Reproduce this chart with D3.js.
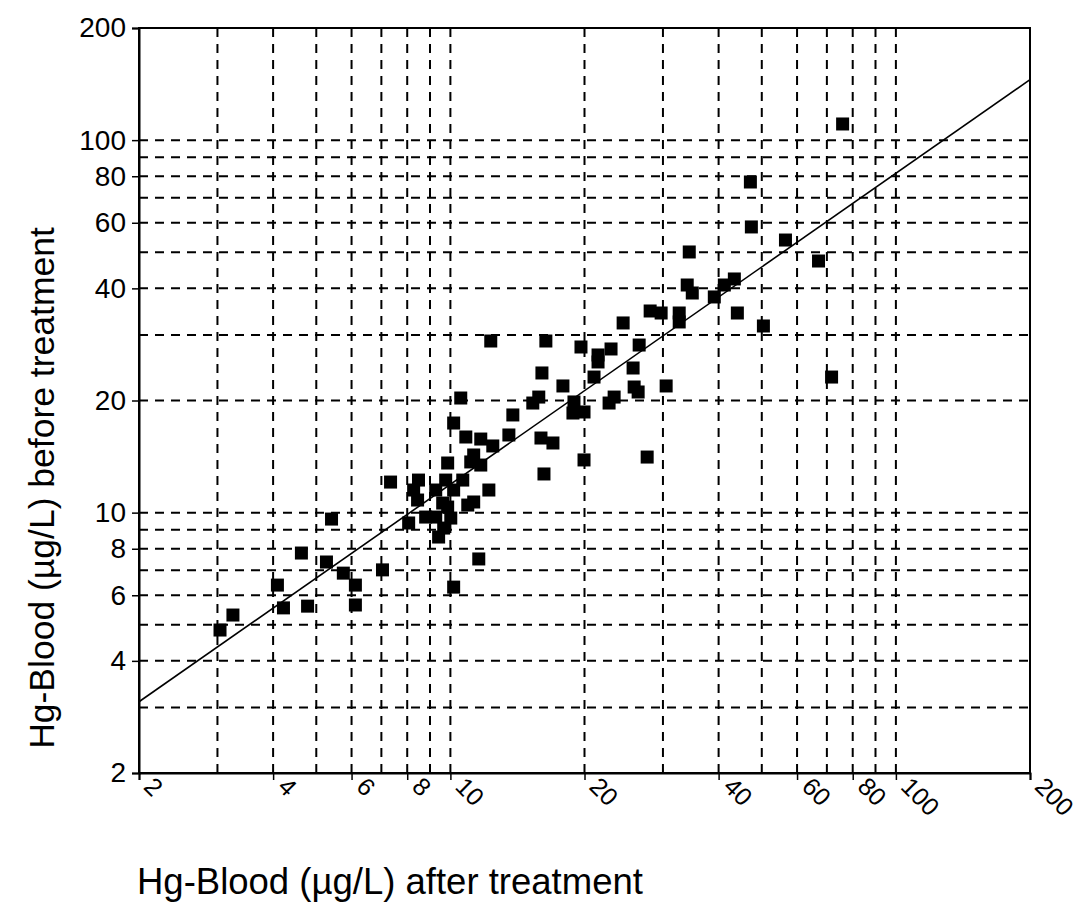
<!DOCTYPE html>
<html>
<head>
<meta charset="utf-8">
<script src="https://cdn.jsdelivr.net/npm/d3@7"></script>
<style>
  html, body { margin: 0; padding: 0; background: #fff; }
  svg { display: block; }
  text { font-family: "Liberation Sans", Arial, Helvetica, sans-serif; fill: #000; }
</style>
</head>
<body>
<svg id="chart" width="1081" height="921"></svg>
<script>
// ---- data ----
const afterTreatment = [
  3.04, 3.25, 4.09, 4.22, 4.63, 4.78, 5.27, 5.41, 5.75, 6.12, 6.12, 7.04,
  7.34, 8.06, 8.27, 8.44, 8.48, 8.80, 9.27, 9.27, 9.41, 9.61, 9.66, 9.76,
  9.86, 9.86, 10.02, 10.17, 10.17, 10.17, 10.55, 10.66, 10.83, 10.94, 11.11, 11.28,
  11.28, 11.58, 11.70, 11.70, 12.20, 12.32, 12.45, 13.53, 13.81, 15.31, 15.79, 16.05,
  15.97, 16.22, 16.38, 16.99, 17.89, 18.94, 18.84, 19.95, 19.64, 19.95, 21.01, 21.45,
  21.45, 22.94, 22.71, 23.31, 24.42, 25.71, 25.85, 26.39, 26.53, 27.65, 28.08, 29.72,
  30.50, 32.63, 32.63, 34.01, 34.37, 34.91, 39.12, 41.20, 43.39, 44.07, 47.14, 47.38,
  50.42, 56.51, 67.04, 71.72, 75.93
];
const beforeTreatment = [
  4.84, 5.31, 6.39, 5.55, 7.79, 5.61, 7.37, 9.61, 6.88, 6.39, 5.65, 7.02,
  12.08, 9.38, 11.50, 10.81, 12.23, 9.73, 11.50, 9.73, 8.60, 10.61, 9.09, 12.23,
  13.59, 10.35, 9.67, 11.50, 17.40, 6.31, 20.31, 12.23, 15.96, 10.48, 13.68, 14.28,
  10.68, 7.51, 15.76, 13.42, 11.50, 28.89, 15.10, 16.16, 18.29, 19.69, 20.43, 23.71,
  15.86, 12.70, 28.89, 15.38, 21.88, 19.82, 18.51, 18.63, 27.84, 13.85, 23.12, 26.50,
  25.38, 27.50, 19.69, 20.43, 32.30, 24.45, 21.74, 21.08, 28.18, 14.10, 34.78, 34.35,
  21.88, 34.35, 32.50, 40.84, 50.09, 38.87, 37.93, 40.84, 42.39, 34.35, 77.2, 58.47,
  31.70, 53.93, 47.37, 23.12, 110.5
];
const gridValues = [3, 4, 5, 6, 7, 8, 9, 10, 20, 30, 40, 50, 60, 70, 80, 90, 100];
const tickLabels = [2, 4, 6, 8, 10, 20, 40, 60, 80, 100, 200];
const domain = [2, 200];
// regression line in log-log space: log10(y) = fitIntercept + fitSlope * log10(x)
const fitIntercept = 0.241;
const fitSlope = 0.835;
const xTitle = "Hg-Blood (\u00b5g/L) after treatment";
const yTitle = "Hg-Blood (\u00b5g/L) before treatment";

// ---- layout ----
const svg = d3.select("#chart");
const pLeft = 139, pRight = 1030, pTop = 28, pBottom = 773;

const x = d3.scaleLog().domain(domain).range([pLeft, pRight]);
const y = d3.scaleLog().domain(domain).range([pBottom, pTop]);

// gridlines
const grid = svg.append("g").attr("stroke", "#000").attr("stroke-width", 2)
  .attr("stroke-dasharray", "9,7").attr("fill", "none");
grid.selectAll("line.v").data(gridValues).join("line").attr("class", "v")
  .attr("x1", d => x(d)).attr("x2", d => x(d)).attr("y1", pTop).attr("y2", pBottom);
grid.selectAll("line.h").data(gridValues).join("line").attr("class", "h")
  .attr("y1", d => y(d)).attr("y2", d => y(d)).attr("x1", pLeft).attr("x2", pRight);

// frame
svg.append("rect").attr("x", pLeft).attr("y", pTop)
  .attr("width", pRight - pLeft).attr("height", pBottom - pTop)
  .attr("fill", "none").attr("stroke", "#000").attr("stroke-width", 2);

// axes
const yAxis = d3.axisLeft(y).tickValues(tickLabels).tickFormat(d3.format("d"))
  .tickSize(7).tickPadding(6);
const gy = svg.append("g").attr("transform", `translate(${pLeft},0)`).call(yAxis);
gy.select(".domain").attr("stroke-width", 2);
gy.selectAll(".tick line").attr("stroke-width", 1.5);
gy.selectAll(".tick text").style("font-size", "28px");

const xAxis = d3.axisBottom(x).tickValues(tickLabels).tickFormat(d3.format("d"))
  .tickSize(7).tickPadding(6);
const gx = svg.append("g").attr("transform", `translate(0,${pBottom})`).call(xAxis);
gx.select(".domain").attr("stroke-width", 2);
gx.selectAll(".tick line").attr("stroke-width", 1.5);
gx.selectAll(".tick text").style("font-size", "25px")
  .attr("text-anchor", "start").attr("dy", null).attr("y", 0)
  .attr("transform", "translate(3,15) rotate(45)");

// regression line
const fit = d => Math.pow(10, fitIntercept + fitSlope * Math.log10(d));
const lineGen = d3.line().x(d => x(d)).y(d => y(fit(d)));
svg.append("path").datum(domain).attr("d", lineGen)
  .attr("fill", "none").attr("stroke", "#000").attr("stroke-width", 1.6);

// points
const pts = afterTreatment.map((a, i) => ({a, b: beforeTreatment[i]}));
const s = 13;
svg.append("g").selectAll("rect").data(pts).join("rect")
  .attr("x", d => x(d.a) - s / 2).attr("y", d => y(d.b) - s / 2)
  .attr("width", s).attr("height", s).attr("fill", "#000");

// titles
svg.append("text").attr("x", pLeft - 2).attr("y", 894)
  .style("font-size", "36.5px").text(xTitle);
svg.append("text").attr("transform", `translate(54,${488}) rotate(-90)`)
  .attr("text-anchor", "middle")
  .style("font-size", "35.5px").text(yTitle);
</script>
</body>
</html>
